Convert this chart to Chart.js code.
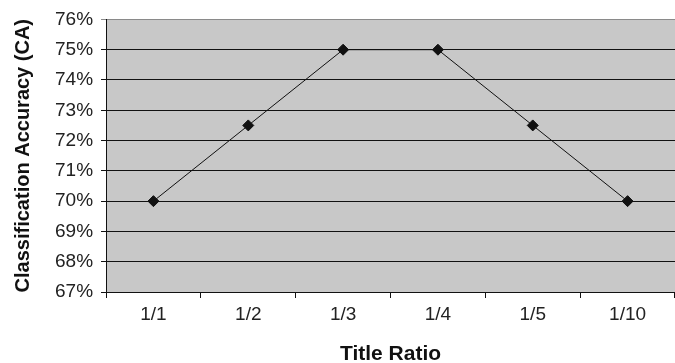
<!DOCTYPE html>
<html>
<head>
    <meta charset="utf-8">
    <title>Classification Accuracy vs Title Ratio</title>
    <script src="https://cdn.jsdelivr.net/npm/chart.js"></script>
    <style>
        html, body { margin: 0; padding: 0; background: #fff; }
        #wrap { width: 675px; height: 363px; }
    </style>
</head>
<body>
    <div id="wrap"><canvas id="caChart" width="675" height="363"></canvas></div>
    <script>
        // data
        const ratios = ['1/1', '1/2', '1/3', '1/4', '1/5', '1/10'];
        const accuracy = [70, 72.5, 75, 75, 72.5, 70];
        const yMin = 67, yMax = 76, yStep = 1;

        // grey plot background
        const plotBg = {
            id: 'plotBg',
            beforeDraw(chart) {
                const { ctx, chartArea: a } = chart;
                ctx.save();
                ctx.fillStyle = '#c8c8c8';
                ctx.fillRect(a.left, a.top, a.right - a.left, a.bottom - a.top);
                ctx.restore();
            }
        };

        const fontFamily = '"Liberation Sans", Arial, sans-serif';

        new Chart(document.getElementById('caChart'), {
            type: 'line',
            data: {
                labels: ratios,
                datasets: [{
                    data: accuracy,
                    borderColor: '#111',
                    borderWidth: 1,
                    backgroundColor: '#111',
                    pointStyle: 'rectRot',
                    pointRadius: 5.5,
                    pointBackgroundColor: '#111',
                    pointBorderColor: '#111',
                    tension: 0,
                    fill: false
                }]
            },
            options: {
                responsive: false,
                animation: false,
                layout: { autoPadding: false, padding: { top: 2, right: 0, left: 11, bottom: -4 } },
                plugins: {
                    legend: { display: false },
                    tooltip: { enabled: false }
                },
                scales: {
                    x: {
                        offset: true,
                        grid: {
                            offset: true,
                            drawOnChartArea: false,
                            drawTicks: true,
                            tickLength: 6,
                            color: '#111'
                        },
                        border: { color: '#111', width: 1 },
                        ticks: {
                            color: '#222',
                            padding: 5,
                            font: { family: fontFamily, size: 19 }
                        },
                        title: {
                            display: true,
                            text: 'Title Ratio',
                            color: '#111',
                            padding: { top: 11, bottom: 0 },
                            font: { family: fontFamily, size: 21, weight: 'bold' }
                        }
                    },
                    y: {
                        min: yMin,
                        max: yMax,
                        grid: {
                            color: ctx => ctx.tick && ctx.tick.value === yMax ? '#8a8a8a' : '#111',
                            lineWidth: 1,
                            tickLength: 5
                        },
                        border: { color: '#111', width: 1 },
                        ticks: {
                            stepSize: yStep,
                            color: '#222',
                            padding: 8,
                            font: { family: fontFamily, size: 19 },
                            callback: v => v + '%'
                        },
                        title: {
                            display: true,
                            text: 'Classification Accuracy (CA)',
                            color: '#111',
                            padding: { top: 0, bottom: 12 },
                            font: { family: fontFamily, size: 20, weight: 'bold' }
                        }
                    }
                }
            },
            plugins: [plotBg]
        });
    </script>
</body>
</html>
